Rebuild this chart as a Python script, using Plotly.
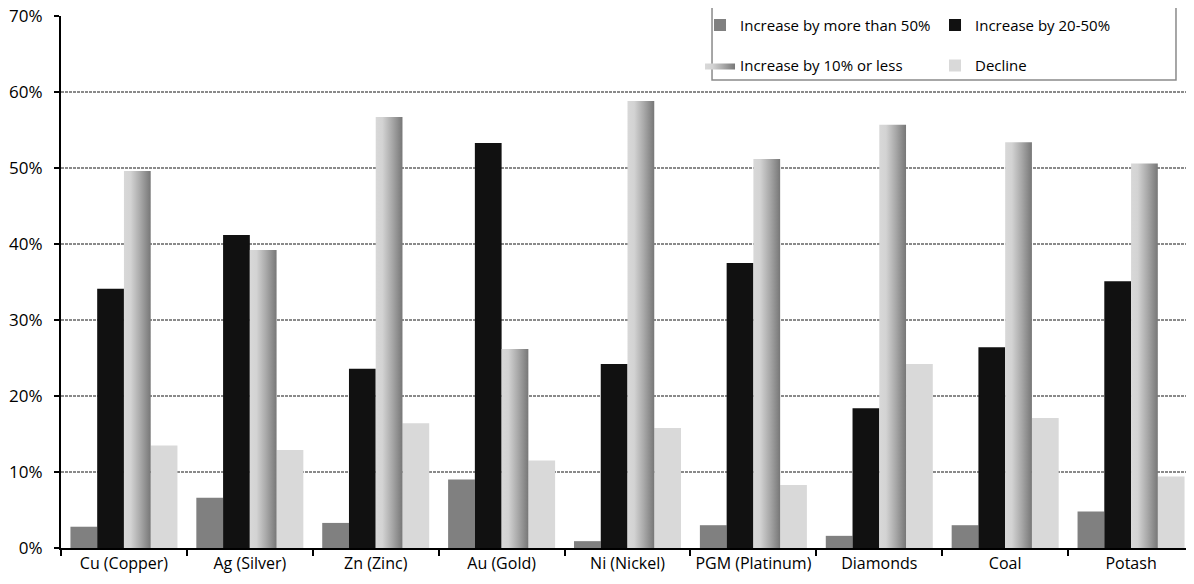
import plotly.graph_objects as go

categories = ["Cu (Copper)", "Ag (Silver)", "Zn (Zinc)", "Au (Gold)", "Ni (Nickel)",
              "PGM (Platinum)", "Diamonds", "Coal", "Potash"]
more_than_50 = [2.8, 6.6, 3.3, 9.0, 0.9, 3.0, 1.6, 3.0, 4.8]
between_20_50 = [34.1, 41.2, 23.6, 53.3, 24.2, 37.5, 18.4, 26.4, 35.1]
ten_or_less = [49.6, 39.2, 56.7, 26.2, 58.8, 51.2, 55.7, 53.4, 50.6]
decline = [13.5, 12.9, 16.4, 11.5, 15.8, 8.3, 24.2, 17.1, 9.4]
y_ticks = [0, 10, 20, 30, 40, 50, 60, 70]
y_tick_labels = [f"{v}%" for v in y_ticks]

FONT = "Open Sans"
BARGAP = 0.15
n_series = 4
bar_w = (1 - BARGAP) / n_series

fig = go.Figure()
fig.add_trace(go.Bar(x=categories, y=more_than_50, name="Increase by more than 50%",
                     marker=dict(color="#808080", line=dict(width=0)), legend="legend"))
fig.add_trace(go.Bar(x=categories, y=between_20_50, name="Increase by 20-50%",
                     marker=dict(color="#111111", line=dict(width=0)), legend="legend"))
# placeholder keeps the group slot for the gradient series
fig.add_trace(go.Bar(x=categories, y=ten_or_less, name="Increase by 10% or less",
                     marker=dict(color="rgba(0,0,0,0)", line=dict(width=0)),
                     showlegend=False, hoverinfo="skip"))

# gradient bars drawn on an overlaying numeric axis matching category positions
grad_scale = [[0, "#d8d8d8"], [0.25, "#d3d3d3"], [0.6, "#aaaaaa"], [1, "#777777"]]
for i, v in enumerate(ten_or_less):
    left = i - (1 - BARGAP) / 2 + 2 * bar_w
    right = left + bar_w
    fig.add_trace(go.Scatter(
        x=[left, left, right, right, left], y=[0, v, v, 0, 0],
        xaxis="x2", mode="lines", fill="toself", line=dict(width=0),
        fillgradient=dict(type="horizontal", colorscale=grad_scale, start=left, stop=right),
        name="Increase by 10% or less", showlegend=(i == 0), legend="legend2",
        hoverinfo="skip"))

fig.add_trace(go.Bar(x=categories, y=decline, name="Decline",
                     marker=dict(color="#d9d9d9", line=dict(width=0)), legend="legend2"))

legend_common = dict(orientation="h", xanchor="left", yanchor="top",
                     bgcolor="rgba(0,0,0,0)", borderwidth=0,
                     entrywidth=190, entrywidthmode="pixels", itemwidth=30,
                     font=dict(size=15, family=FONT), traceorder="normal")

fig.update_layout(
    width=1186, height=576,
    margin=dict(l=53, r=0, t=8, b=36, autoexpand=False),
    paper_bgcolor="white", plot_bgcolor="white",
    barmode="group", bargap=BARGAP, bargroupgap=0,
    font=dict(family=FONT, size=16, color="#000"),
    xaxis=dict(type="category", range=[-0.5, len(categories) - 0.5],
               tickson="boundaries", ticks="outside", ticklen=6, tickwidth=1.5,
               tickcolor="#000", showline=True, linecolor="#000", linewidth=2,
               showgrid=False, tickangle=0, automargin=False,
               tickfont=dict(size=16, family=FONT)),
    xaxis2=dict(overlaying="x", range=[-0.5, len(categories) - 0.5], visible=False,
                showgrid=False, zeroline=False),
    yaxis=dict(range=[0, 70], tickvals=y_ticks, ticktext=y_tick_labels, ticks="outside",
               ticklen=5, tickwidth=1.5, tickcolor="#000", showline=True,
               linecolor="#000", linewidth=2, showgrid=True, gridcolor="#8a8a8a",
               griddash="3px,1px", gridwidth=1.5, zeroline=False, automargin=False,
               ticklabeloverflow="allow", ticklabelstandoff=8,
               tickfont=dict(size=17, family=FONT)),
    legend=dict(x=0.564, y=1.0134, **legend_common),
    legend2=dict(x=0.564, y=0.9375, **legend_common),
    shapes=[dict(type="rect", xref="paper", yref="paper",
                 x0=0.5746, x1=0.9841, y0=0.8797, y1=1.0169,
                 fillcolor="white", line=dict(color="#8a8a8a", width=1.5),
                 layer="above")],
    showlegend=True,
)

fig.write_html("out.html")
